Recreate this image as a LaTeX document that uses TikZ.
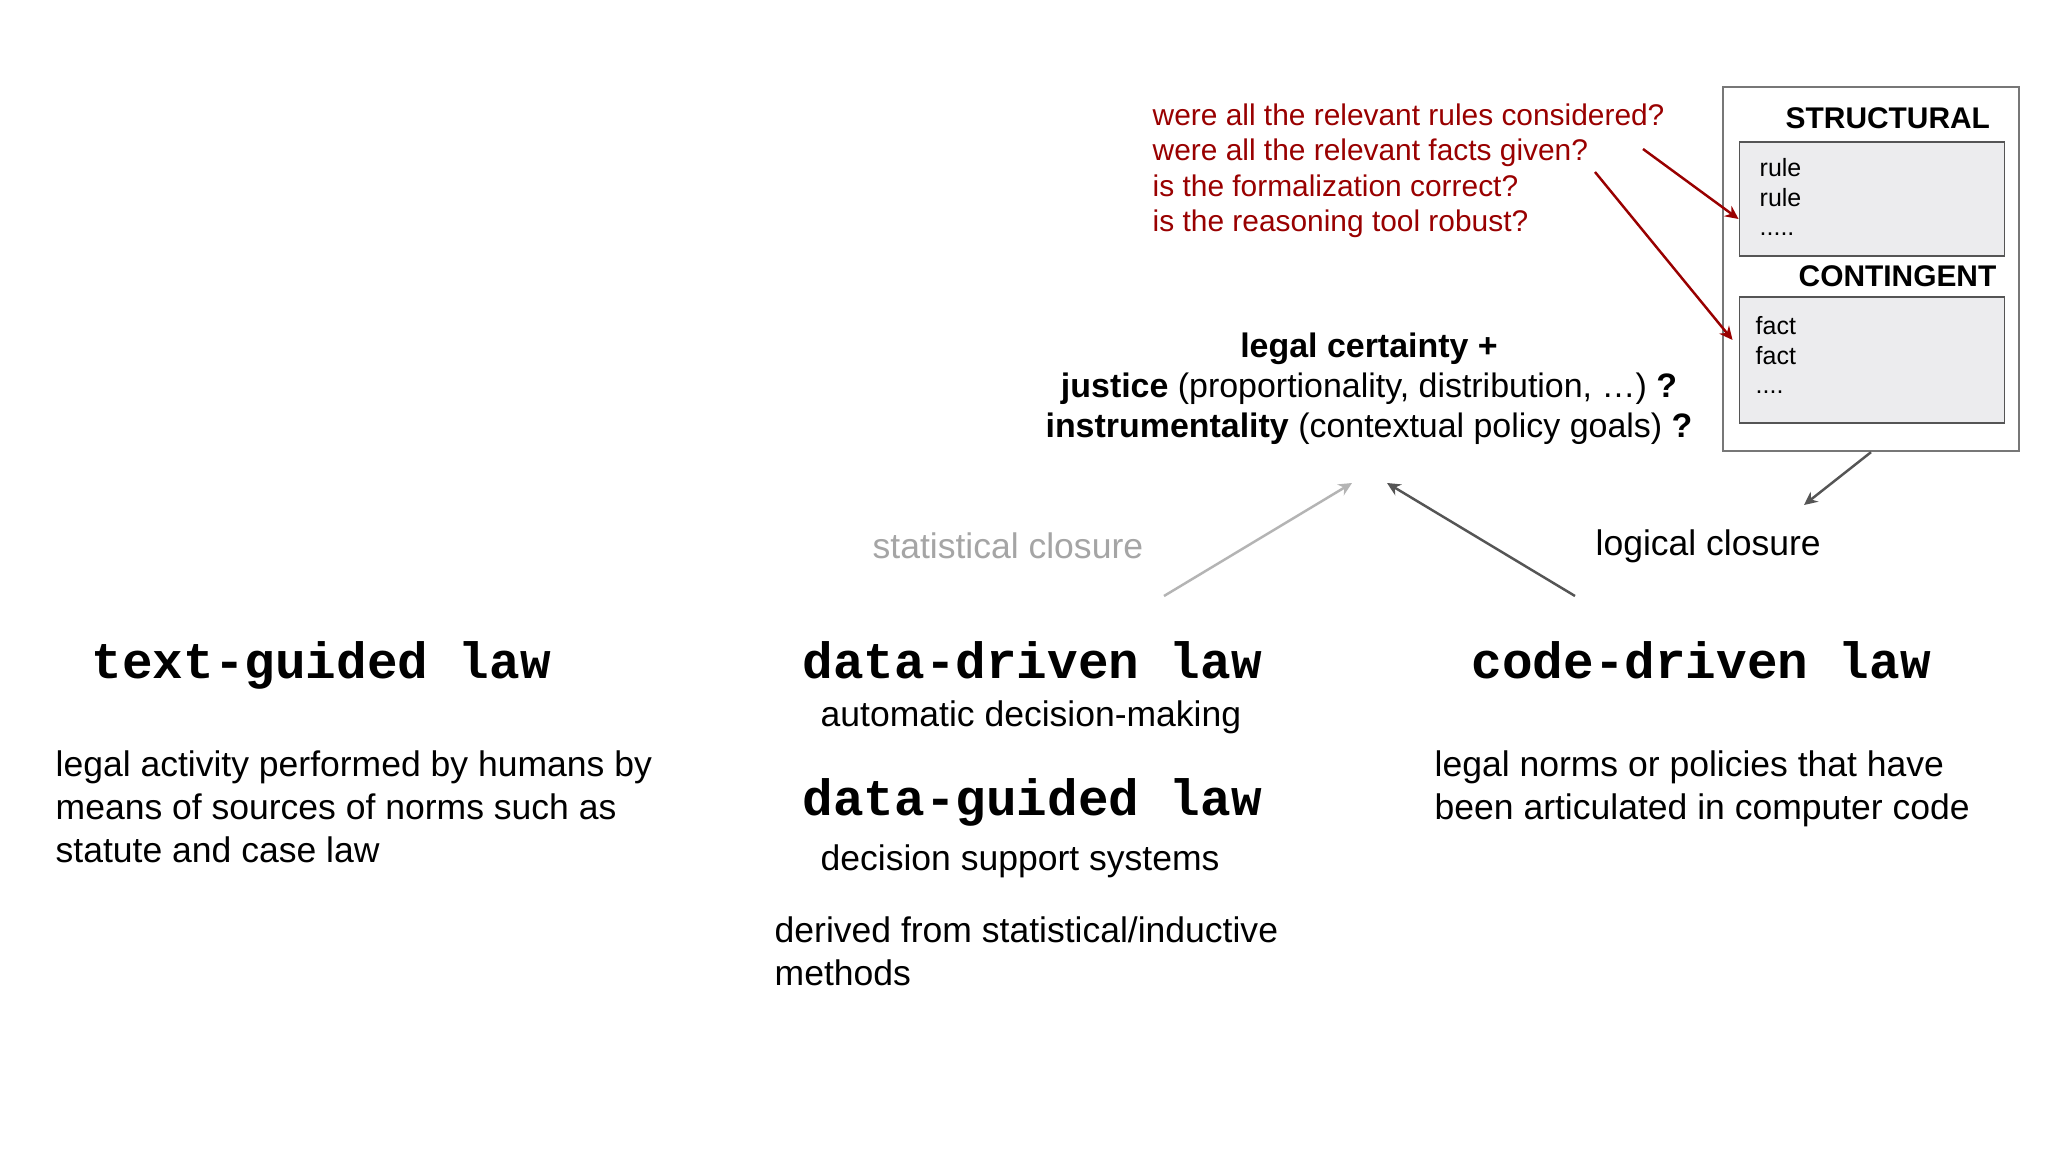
\documentclass[tikz,border=0pt]{standalone}
\usepackage{fontspec}
\setmainfont{Liberation Sans}
\newfontfamily\slidemono{Liberation Mono}
\usetikzlibrary{arrows.meta}

\definecolor{questred}{RGB}{153,0,0}
\definecolor{closegray}{RGB}{165,165,165}
\definecolor{linkgray}{RGB}{85,85,85}
\definecolor{lightlink}{RGB}{180,180,180}
\definecolor{boxfill}{RGB}{236,236,238}

\begin{document}
\begin{tikzpicture}[x=0.01cm,y=-0.01cm]

    \tikzset{
      lawname/.style={
        anchor=base west,
        inner sep=0pt,
        font=\slidemono\bfseries\fontsize{14.5}{17}\selectfont,
      },
      lawtext/.style={
        anchor=base west,
        inner sep=0pt,
        align=left,
        font=\fontsize{10.1}{12.2}\selectfont,
      },
      question/.style={
        anchor=base west,
        inner sep=0pt,
        align=left,
        text=questred,
        font=\fontsize{8.5}{10.1}\selectfont,
      },
      boxtitle/.style={
        anchor=base west,
        inner sep=0pt,
        font=\bfseries\fontsize{8.5}{10}\selectfont,
      },
      boxitems/.style={
        anchor=base west,
        inner sep=0pt,
        align=left,
        font=\fontsize{7.1}{8.5}\selectfont,
      },
      itembox/.style={
        draw=linkgray,
        fill=boxfill,
        line width=0.5pt,
        minimum width=2.65cm,
      },
      link/.style={
        line width=0.7pt,
        -{Stealth[length=3.8pt,width=3.6pt]},
      },
    }
    \useasboundingbox[fill=white] (0,0) rectangle (2048,1152);

	% three kinds of law (multi-line nodes sit on their last line)
	\node[lawname] (textlaw) at (91,678) {text-guided law};
	\node[lawname] (drivenlaw) at (802,679) {data-driven law};
	\node[lawname] (guidedlaw) at (802,815) {data-guided law};
	\node[lawname] (codelaw) at (1471,679) {code-driven law};

	\node[lawtext] (textdesc) at (55,862) {legal activity performed by humans by\\means of sources of norms such as\\statute and case law};
	\node[lawtext] (adm) at (820,726) {automatic decision-making};
	\node[lawtext] (dss) at (820,870) {decision support systems};
	\node[lawtext] (datadesc) at (774,985) {derived from statistical/inductive\\methods};
	\node[lawtext] (codedesc) at (1434,819) {legal norms or policies that have\\been articulated in computer code};

	\node[lawtext,text=closegray] (statclosure) at (872,559) {statistical closure};
	\node[lawtext] (logclosure) at (1595,555) {logical closure};

	% values
	\node[anchor=base, inner sep=0pt, align=center, font=\fontsize{9.65}{11.5}\selectfont] (values) at (1369,438)
	  {\textbf{legal certainty +}\\\textbf{justice} (proportionality, distribution, …) \textbf{?}\\\textbf{instrumentality} (contextual policy goals) \textbf{?}};

	\node[question] (questions) at (1152,232) {were all the relevant rules considered?\\were all the relevant facts given?\\is the formalization correct?\\is the reasoning tool robust?};

	% knowledge base
	\node[draw=linkgray!80, line width=0.6pt, minimum width=2.96cm, minimum height=3.64cm] (outer) at (1871,269) {};
	\node[boxtitle] (structural) at (1785,129) {STRUCTURAL};
	\node[itembox, minimum height=1.14cm] (rulebox) at (1872,199) {};
	\node[boxitems] (rules) at (1759,236) {rule\\rule\\.....};
	\node[boxtitle] (contingent) at (1798,287) {CONTINGENT};
	\node[itembox, minimum height=1.265cm] (factbox) at (1872,360) {};
	\node[boxitems] (facts) at (1755,394) {fact\\fact\\....};

	% connectors
	\coordinate (ruleq) at (1643,149);
	\coordinate (factq) at (1595,172);
	\coordinate (logend) at (1804,505);
	\coordinate (statfoot) at (1164,596);
	\coordinate (statend) at (1352,483);
	\coordinate (logfoot) at (1575,596);
	\coordinate (logtip) at (1387,483);

	\draw[link,color=questred] (ruleq)--([yshift=-0.2cm]rulebox.west);
	\draw[link,color=questred] (factq)--([xshift=-0.06cm,yshift=0.2cm]factbox.west);
	\draw[link,color=linkgray] (outer.south)--(logend);
	\draw[link,color=lightlink] (statfoot)--(statend);
	\draw[link,color=linkgray] (logfoot)--(logtip);

\end{tikzpicture}
\end{document}
